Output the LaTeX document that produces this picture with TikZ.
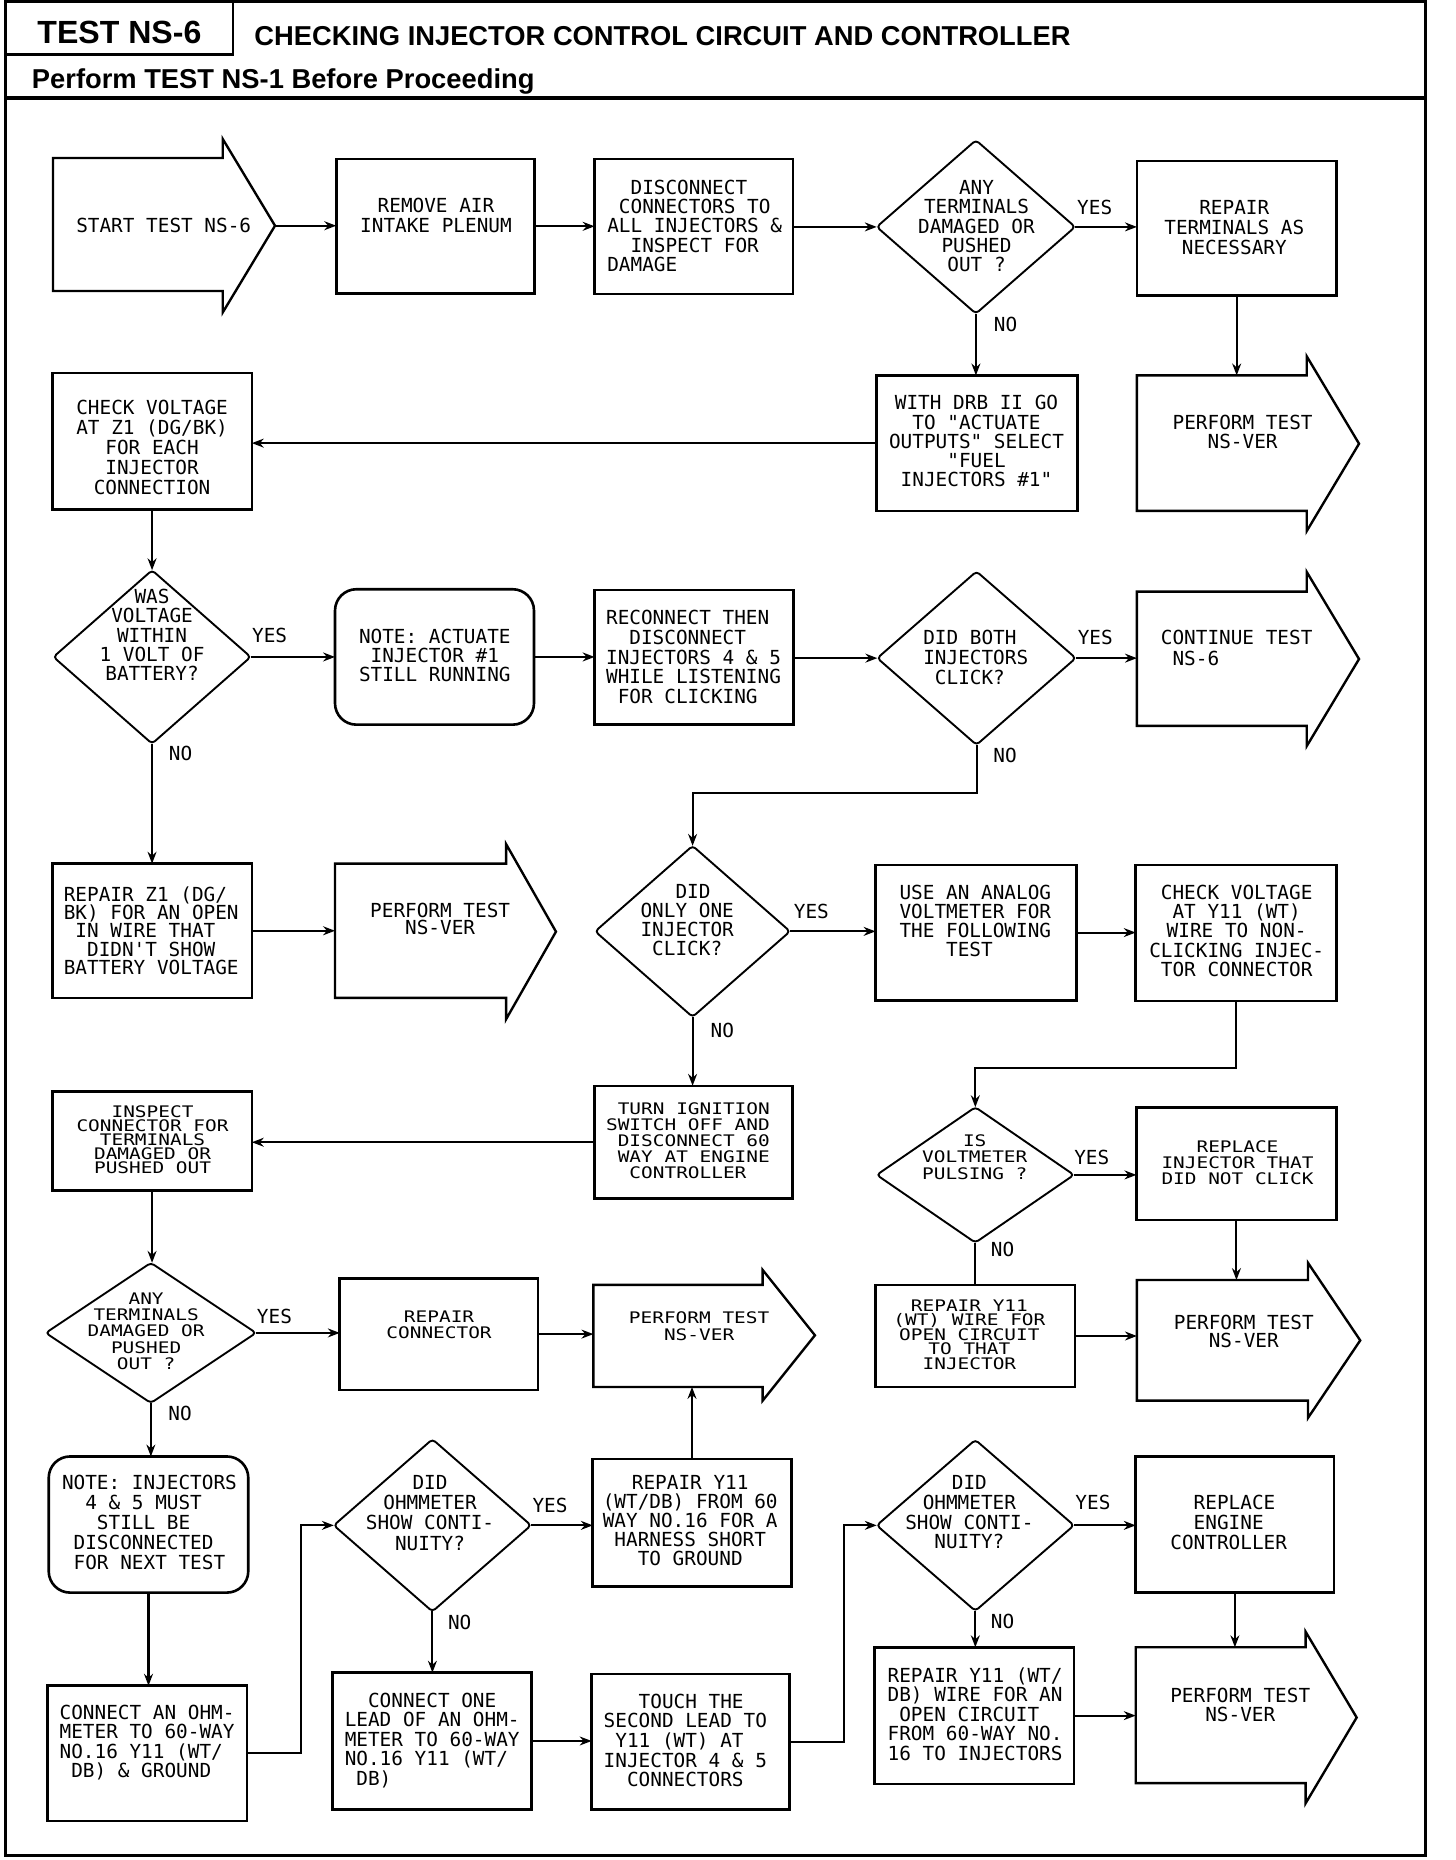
\documentclass[tikz,border=0pt]{standalone}
\usepackage{fontspec}
\usetikzlibrary{arrows.meta,shapes.geometric,fit,calc}
\newfontfamily\plotfont{DejaVu Sans Mono}
\newfontfamily\plotfontc[FakeStretch=1.22]{DejaVu Sans Mono}
\newfontfamily\headfont{Liberation Sans}
\tikzset{
  boxst/.style={draw, line width=2.2pt, inner sep=0pt, outer sep=0pt},
  rboxst/.style={boxst, rounded corners=18pt},
  dia/.style={draw, diamond, line width=1.6pt, inner sep=0pt, outer sep=0pt, rounded corners=3pt},
  barline/.style={line width=2pt, line join=miter},
  conn/.style={line width=1.7pt},
  arr/.style={conn, -{Stealth[length=10pt,width=7.5pt]}},
  ntx/.style={inner sep=0pt, align=center, font={\plotfont\fontsize{16.3pt}{#1}\selectfont}},
  ntx/.default={16.4pt},
  ntxl/.style={ntx=#1, align=left, anchor=west},
  ntxl/.default={16.4pt},
  ctx/.style={inner sep=0pt, align=center, font={\plotfontc\fontsize{13.4pt}{#1}\selectfont}},
  ctx/.default={13.5pt},
  ctxl/.style={ctx=#1, align=left, anchor=west},
  ctxl/.default={13.5pt},
  lbl/.style={inner sep=0pt, font={\plotfont\fontsize{16.3pt}{16.4pt}\selectfont}},
}
\newcommand{\boxn}[5]{\node[boxst, fit={(#2,#3) (#4,#5)}] (#1) {};}
\newcommand{\rboxn}[5]{\node[rboxst, fit={(#2,#3) (#4,#5)}] (#1) {};}
% name, x left, x notch, x tip, y top, y bottom, head top, head bottom
\newcommand{\blockarr}[8]{%
  \node[inner sep=0pt, outer sep=0pt, fit={(#2,#5) (#3,#6)}] (#1) {};
  \draw[barline] (#2,#5) -- (#3,#5) -- (#3,#7) -- (#4,{(#7+#8)/2}) -- (#3,#8) -- (#3,#6) -- (#2,#6) -- cycle;
  \coordinate (#1-tip) at (#4,{(#7+#8)/2});
}
\begin{document}
\begin{tikzpicture}[x=1pt,y=-1pt]
\useasboundingbox (0,0) rectangle (1225.6,1565.7);
% frame and header
\draw[line width=2.6pt] (4.7,1.5) rectangle (1200,1562);
\draw[line width=2.6pt] (4.7,82.5) -- (1200,82.5);
\draw[line width=2pt] (196,1.5) -- (196,46) -- (4.7,46);
\node[inner sep=0pt, anchor=base, font={\headfont\bfseries\fontsize{27pt}{30pt}\selectfont}] (hd1) at (100.5,36.5) {TEST NS-6};
\node[inner sep=0pt, anchor=base west, font={\headfont\bfseries\fontsize{23pt}{26pt}\selectfont}] (hd2) at (214,38) {CHECKING INJECTOR CONTROL CIRCUIT AND CONTROLLER};
\node[inner sep=0pt, anchor=base west, font={\headfont\bfseries\fontsize{23pt}{26pt}\selectfont}] (hd3) at (26.7,74.3) {Perform TEST NS-1 Before Proceeding};

% block arrows
\blockarr{start}{44.6}{187.5}{231.5}{133}{245}{117}{263}
\blockarr{perf1}{957}{1100}{1144}{316}{430}{300}{447}
\blockarr{cont}{957}{1100}{1144}{498}{611}{481.5}{628}
\blockarr{perf2}{282}{426}{468}{727}{840}{710.5}{858}
\blockarr{perf3}{499.5}{642}{686}{1081.6}{1167.5}{1069}{1179}
\blockarr{perf4}{957}{1101}{1145}{1077.5}{1179}{1063}{1193.6}
\blockarr{perf5}{956}{1099}{1142}{1386.6}{1501}{1373.5}{1518}

% boxes
\boxn{remove}{283}{134}{450}{247}
\boxn{disc}{500.5}{134}{667.5}{247.6}
\boxn{reprterm}{957}{135.5}{1125}{249}
\boxn{chkz1}{44}{314}{212}{429}
\boxn{drb}{738}{316}{907}{430}
\rboxn{note1}{282}{496}{449.5}{610}
\boxn{recon}{500.5}{496.5}{668}{610}
\boxn{rz1}{44}{727}{212}{840}
\boxn{analog}{737}{728}{906}{842}
\boxn{chky11}{956}{728}{1125}{842.6}
\boxn{inspect}{44}{919}{212}{1002}
\boxn{turn}{500.5}{914}{667}{1009}
\boxn{replinj}{956.6}{932}{1125}{1027}
\boxn{repconn}{286}{1076}{453}{1170}
\boxn{rwt}{737}{1081.6}{905}{1167.6}
\rboxn{note2}{41}{1226}{209}{1340.6}
\boxn{harness}{499}{1228}{666}{1335.5}
\boxn{replec}{956}{1226}{1123}{1340.6}
\boxn{connohm}{40}{1419}{208}{1533}
\boxn{conn1}{280}{1408}{447.5}{1523}
\boxn{touch}{498}{1409}{664.7}{1523}
\boxn{rdb}{736}{1386.6}{904}{1501.7}

% diamonds
\node[dia, minimum width=167pt, minimum height=146pt] (any1) at (821.5,191) {};
\node[dia, minimum width=166pt, minimum height=146pt] (was) at (128,553) {};
\node[dia, minimum width=167pt, minimum height=146pt] (both) at (822,554) {};
\node[dia, minimum width=164pt, minimum height=144pt] (only) at (583,784) {};
\node[dia, minimum width=166pt, minimum height=114pt] (isv) at (821,989) {};
\node[dia, minimum width=177pt, minimum height=118pt] (any2) at (127,1122) {};
\node[dia, minimum width=166pt, minimum height=145pt] (ohm1) at (364,1284) {};
\node[dia, minimum width=166pt, minimum height=144pt] (ohm2) at (821,1284) {};

% texts
\node[ntx] (t-start) at (137.8,190) {START TEST NS-6};
\node[ntx] (t-remove) at (367,181.4) {REMOVE AIR\\INTAKE PLENUM};
\node[ntxl=16.2pt] (t-disc) at (511,190.1) {\hphantom{AA}DISCONNECT\\\hphantom{A}CONNECTORS TO\\ALL INJECTORS \&\\\hphantom{AA}INSPECT FOR\\DAMAGE};
\node[ntx=16.25pt] (t-any1) at (822,190.5) {ANY\\TERMINALS\\DAMAGED OR\\PUSHED\\OUT ?};
\node[ntx=16.5pt] (t-reprterm) at (1039,191.5) {REPAIR\\TERMINALS AS\\NECESSARY};
\node[ntx=16.75pt] (t-chkz1) at (128,376.5) {CHECK VOLTAGE\\AT Z1 (DG/BK)\\FOR EACH\\INJECTOR\\CONNECTION};
\node[ntx=16.25pt] (t-drb) at (822,371.5) {WITH DRB II GO\\TO "ACTUATE\\OUTPUTS" SELECT\\"FUEL\\INJECTORS \#1"};
\node[ntx=16pt] (t-perf1) at (1046,364) {PERFORM TEST\\NS-VER};
\node[ntx=16.25pt] (t-was) at (128,534.5) {WAS\\VOLTAGE\\WITHIN\\1 VOLT OF\\BATTERY?};
\node[ntx=16pt] (t-note1) at (366,552) {NOTE: ACTUATE\\INJECTOR \#1\\STILL RUNNING};
\node[ntxl=16.6pt] (t-recon) at (510,553) {RECONNECT THEN\\\hphantom{AA}DISCONNECT\\INJECTORS 4 \& 5\\WHILE LISTENING\\\hphantom{A}FOR CLICKING};
\node[ntxl=16.5pt] (t-both) at (777,553.5) {DID BOTH\\INJECTORS\\\hphantom{A}CLICK?};
\node[ntxl=17pt] (t-cont) at (977,545.5) {CONTINUE TEST\\\hphantom{A}NS-6};
\node[ntxl=15.25pt] (t-rz1) at (53.5,783.5) {REPAIR Z1 (DG/\\BK) FOR AN OPEN\\\hphantom{A}IN WIRE THAT\\\hphantom{AA}DIDN'T SHOW\\BATTERY VOLTAGE};
\node[ntx=15pt] (t-perf2) at (370.5,773.5) {PERFORM TEST\\NS-VER};
\node[ntxl=15.8pt] (t-only) at (539,774.5) {\hphantom{AAA}DID\\ONLY ONE\\INJECTOR\\\hphantom{A}CLICK?};
\node[ntxl=16pt] (t-analog) at (757,775) {USE AN ANALOG\\VOLTMETER FOR\\THE FOLLOWING\\\hphantom{AAAA}TEST};
\node[ntx=16.25pt] (t-chky11) at (1041,783.5) {CHECK VOLTAGE\\AT Y11 (WT)\\WIRE TO NON-\\CLICKING INJEC-\\TOR CONNECTOR};
\node[ctx=11.8pt] (t-inspect) at (128.4,959.5) {INSPECT\\CONNECTOR FOR\\TERMINALS\\DAMAGED OR\\PUSHED OUT};
\node[ctxl=13.6pt] (t-turn) at (510,960.3) {\hphantom{A}TURN IGNITION\\SWITCH OFF AND\\\hphantom{A}DISCONNECT 60\\\hphantom{A}WAY AT ENGINE\\\hphantom{AA}CONTROLLER};
\node[ctx=13.8pt] (t-isv) at (820.5,974) {IS\\VOLTMETER\\PULSING ?};
\node[ctx=13.4pt] (t-replinj) at (1041.7,978.4) {REPLACE\\INJECTOR THAT\\DID NOT CLICK};
\node[ctx=13.75pt] (t-any2) at (123,1120.5) {ANY\\TERMINALS\\DAMAGED OR\\PUSHED\\OUT ?};
\node[ctx=13.6pt] (t-repconn) at (369.6,1115.2) {REPAIR\\CONNECTOR};
\node[ctx=14.1pt] (t-perf3) at (588.5,1116.6) {PERFORM TEST\\NS-VER};
\node[ctx=12.15pt] (t-rwt) at (816,1123.3) {REPAIR Y11\\(WT) WIRE FOR\\OPEN CIRCUIT\\TO THAT\\INJECTOR};
\node[ntx=15pt] (t-perf4) at (1047,1120.5) {PERFORM TEST\\NS-VER};
\node[ntxl=16.9pt] (t-note2) at (52,1281.8) {NOTE: INJECTORS\\\hphantom{AA}4 \& 5 MUST\\\hphantom{AAA}STILL BE\\\hphantom{A}DISCONNECTED\\\hphantom{A}FOR NEXT TEST};
\node[ntx=17pt] (t-ohm1) at (362,1273.5) {DID\\OHMMETER\\SHOW CONTI-\\NUITY?};
\node[ntx=16pt] (t-harness) at (581,1280) {REPAIR Y11\\(WT/DB) FROM 60\\WAY NO.16 FOR A\\HARNESS SHORT\\TO GROUND};
\node[ntx=16.7pt] (t-ohm2) at (816,1273) {DID\\OHMMETER\\SHOW CONTI-\\NUITY?};
\node[ntxl=16.5pt] (t-replec) at (985,1281.5) {\hphantom{AA}REPLACE\\\hphantom{AA}ENGINE\\CONTROLLER};
\node[ntxl=16.5pt] (t-connohm) at (50,1466.8) {CONNECT AN OHM-\\METER TO 60-WAY\\NO.16 Y11 (WT/\\\hphantom{A}DB) \& GROUND};
\node[ntxl=16.5pt] (t-conn1) at (290,1465) {\hphantom{AA}CONNECT ONE\\LEAD OF AN OHM-\\METER TO 60-WAY\\NO.16 Y11 (WT/\\\hphantom{A}DB)};
\node[ntxl=16.5pt] (t-touch) at (508,1465) {\hphantom{AAA}TOUCH THE\\SECOND LEAD TO\\\hphantom{A}Y11 (WT) AT\\INJECTOR 4 \& 5\\\hphantom{AA}CONNECTORS};
\node[ntxl=16.4pt] (t-rdb) at (747,1443) {REPAIR Y11 (WT/\\DB) WIRE FOR AN\\\hphantom{A}OPEN CIRCUIT\\FROM 60-WAY NO.\\16 TO INJECTORS};
\node[ntx=16pt] (t-perf5) at (1044,1435) {PERFORM TEST\\NS-VER};

% YES / NO labels
\node[lbl] (y1) at (921.5,174.4) {YES};
\node[lbl] (n1) at (846.5,272.9) {NO};
\node[lbl] (y2) at (227,535) {YES};
\node[lbl] (n2) at (152,634) {NO};
\node[lbl] (y3) at (922,537) {YES};
\node[lbl] (n3) at (846,635.5) {NO};
\node[lbl] (y4) at (683,767) {YES};
\node[lbl] (n4) at (608,867) {NO};
\node[lbl] (y5) at (919,974) {YES};
\node[lbl] (n5) at (844,1052) {NO};
\node[lbl] (y6) at (231,1108) {YES};
\node[lbl] (n6) at (151.6,1189.6) {NO};
\node[lbl] (y7) at (463,1267) {YES};
\node[lbl] (n7) at (387,1366) {NO};
\node[lbl] (y8) at (920,1265) {YES};
\node[lbl] (n8) at (844,1365) {NO};

% bend coordinates
\coordinate (b1) at (822,667.5);
\coordinate (b2) at (1040.5,899);
\coordinate (b3) at (253,1476);
\coordinate (b4) at (710.5,1466);

% connectors
\draw[arr] (start-tip) -- (start-tip -| remove.west);
\draw[arr] (remove.east) -- (remove.east -| disc.west);
\draw[arr] (disc.east |- any1.west) -- (any1.west);
\draw[arr] (any1.east) -- (any1.east -| reprterm.west);
\draw[arr] (any1.south) -- (any1.south |- drb.north);
\draw[arr] (reprterm.south) -- (reprterm.south |- perf1.north);
\draw[arr] (drb.west) -- (drb.west -| chkz1.east);
\draw[arr] (chkz1.south) -- (chkz1.south |- was.north);
\draw[arr] (was.east) -- (was.east -| note1.west);
\draw[arr] (note1.east) -- (note1.east -| recon.west);
\draw[arr] (recon.east |- both.west) -- (both.west);
\draw[arr] (both.east) -- (both.east -| cont.west);
\draw[arr] (both.south) -- (b1) -| (only.north);
\draw[arr] (was.south) -- (was.south |- rz1.north);
\draw[arr] (rz1.east) -- (rz1.east -| perf2.west);
\draw[arr] (only.east) -- (only.east -| analog.west);
\draw[arr] (analog.east) -- (analog.east -| chky11.west);
\draw[arr] (only.south) -- (only.south |- turn.north);
\draw[arr] (chky11.south) -- (b2) -| (isv.north);
\draw[arr] (turn.west) -- (turn.west -| inspect.east);
\draw[arr] (isv.east) -- (isv.east -| replinj.west);
\draw[conn] (isv.south) -- (isv.south |- rwt.north);
\draw[arr] (replinj.south) -- (replinj.south |- perf4.north);
\draw[arr] (rwt.east) -- (rwt.east -| perf4.west);
\draw[arr] (inspect.south) -- (inspect.south |- any2.north);
\draw[arr] (any2.east) -- (any2.east -| repconn.west);
\draw[arr] (repconn.east) -- (repconn.east -| perf3.west);
\draw[arr] (harness.north) -- (harness.north |- perf3.south);
\draw[arr] (any2.south) -- (any2.south |- note2.north);
\draw[arr] (note2.south) -- (note2.south |- connohm.north);
\draw[arr] (connohm.east) -- (b3) |- (ohm1.west);
\draw[arr] (ohm1.east) -- (ohm1.east -| harness.west);
\draw[arr] (ohm1.south) -- (ohm1.south |- conn1.north);
\draw[arr] (conn1.east) -- (conn1.east -| touch.west);
\draw[arr] (touch.east) -- (b4) |- (ohm2.west);
\draw[arr] (ohm2.east) -- (ohm2.east -| replec.west);
\draw[arr] (ohm2.south) -- (ohm2.south |- rdb.north);
\draw[arr] (replec.south) -- (replec.south |- perf5.north);
\draw[arr] (rdb.east) -- (rdb.east -| perf5.west);
\end{tikzpicture}
\end{document}
